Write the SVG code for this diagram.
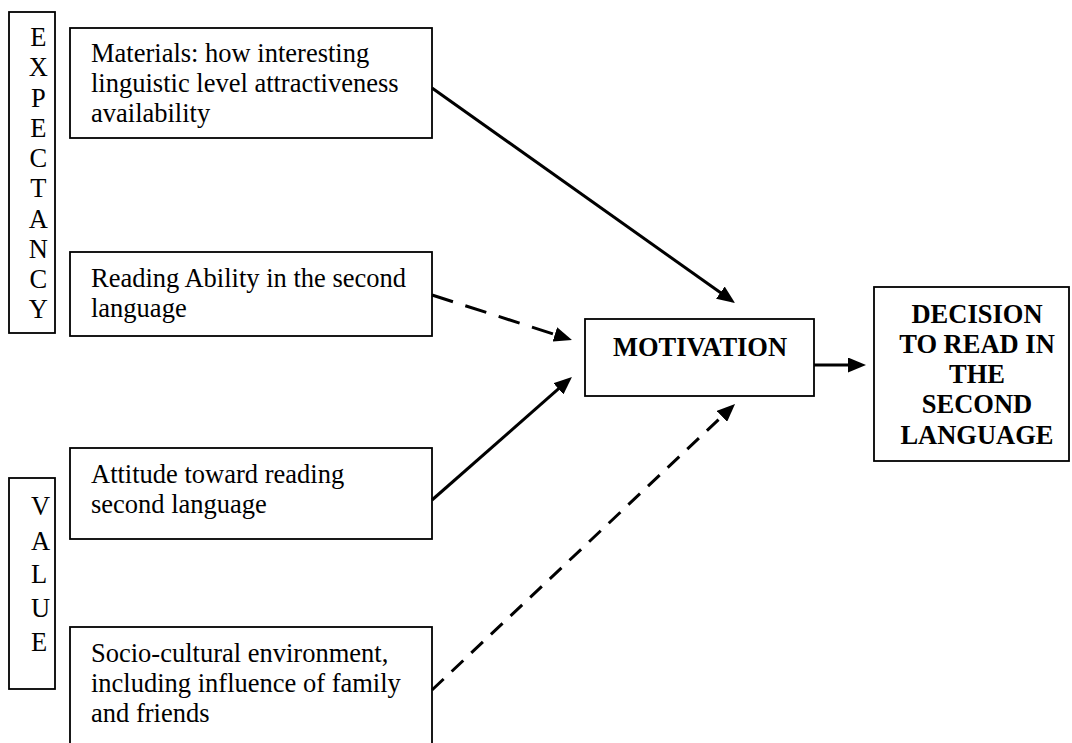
<svg xmlns="http://www.w3.org/2000/svg" width="1072" height="743" viewBox="0 0 1072 743">
<defs>
<marker id="arrow" markerUnits="userSpaceOnUse" markerWidth="18" markerHeight="15" viewBox="0 0 18 15" refX="9" refY="7.5" orient="auto">
<path d="M0,0 L18,7.5 L0,15 z" fill="#000"/>
</marker>
<style>
.box{fill:#fff;stroke:#000;stroke-width:1.8}
.t{font-family:"Liberation Serif","Times New Roman",serif;font-size:26.5px;fill:#000}
.b{font-weight:bold;text-anchor:middle}
.conn{stroke:#000;stroke-width:3;fill:none}
</style>
</defs>
<rect width="1072" height="743" fill="#fff"/>
<g id="expectancy">
<rect class="box" x="9" y="12" width="46" height="321"/>
<text class="t" text-anchor="middle">
<tspan x="38.3" y="46">E</tspan><tspan x="38.3" y="76">X</tspan><tspan x="38.3" y="107">P</tspan><tspan x="38.3" y="137">E</tspan><tspan x="38.3" y="167">C</tspan><tspan x="38.3" y="197">T</tspan><tspan x="38.3" y="228">A</tspan><tspan x="38.3" y="258">N</tspan><tspan x="38.3" y="288">C</tspan><tspan x="38.3" y="318">Y</tspan>
</text>
</g>
<g id="value">
<rect class="box" x="9" y="478" width="46" height="211"/>
<text class="t">
<tspan x="31" y="515">V</tspan><tspan x="31" y="550">A</tspan><tspan x="31" y="583">L</tspan><tspan x="31" y="617">U</tspan><tspan x="31" y="651">E</tspan>
</text>
</g>
<g id="materials">
<rect class="box" x="70" y="28" width="362" height="110"/>
<text class="t"><tspan x="91" y="62">Materials: how interesting</tspan><tspan x="91" y="92">linguistic level attractiveness</tspan><tspan x="91" y="122">availability</tspan></text>
</g>
<g id="reading">
<rect class="box" x="70" y="252" width="362" height="84"/>
<text class="t"><tspan x="91" y="287">Reading Ability in the second</tspan><tspan x="91" y="317">language</tspan></text>
</g>
<g id="attitude">
<rect class="box" x="70" y="448" width="362" height="91"/>
<text class="t"><tspan x="91" y="483">Attitude toward reading</tspan><tspan x="91" y="513">second language</tspan></text>
</g>
<g id="socio">
<rect class="box" x="70" y="627" width="362" height="130"/>
<text class="t"><tspan x="91" y="662">Socio-cultural environment,</tspan><tspan x="91" y="692">including influence of family</tspan><tspan x="91" y="722">and friends</tspan></text>
</g>
<g id="motivation">
<rect class="box" x="585" y="319" width="229" height="77"/>
<text class="t b" x="700" y="356">MOTIVATION</text>
</g>
<g id="decision">
<rect class="box" x="874" y="287" width="195" height="174"/>
<text class="t b"><tspan x="977" y="323">DECISION</tspan><tspan x="977" y="353">TO READ IN</tspan><tspan x="977" y="383">THE</tspan><tspan x="977" y="413">SECOND</tspan><tspan x="977" y="444">LANGUAGE</tspan></text>
</g>
<g id="connectors">
<line class="conn" x1="432" y1="88" x2="727.7" y2="297.8" marker-end="url(#arrow)"/>
<line class="conn" x1="432" y1="295" x2="563.4" y2="337.2" stroke-dasharray="22 13" marker-end="url(#arrow)"/>
<line class="conn" x1="432" y1="500" x2="565.2" y2="382.9" marker-end="url(#arrow)"/>
<line class="conn" x1="432" y1="690" x2="728.5" y2="410.2" stroke-dasharray="16 11" marker-end="url(#arrow)"/>
<line class="conn" x1="814" y1="365" x2="857" y2="365" marker-end="url(#arrow)"/>
</g>
</svg>
